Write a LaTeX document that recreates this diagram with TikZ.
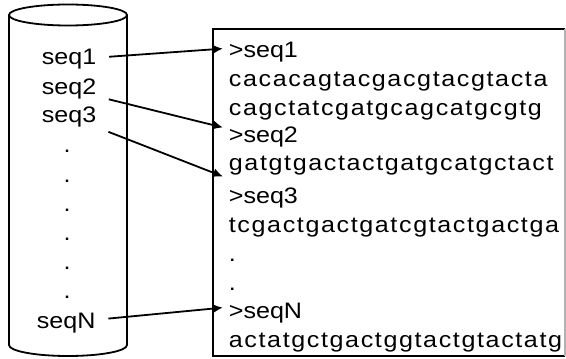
\documentclass[tikz,border=0pt]{standalone}
\usepackage{fontspec}
\setmainfont{Liberation Sans}[FakeStretch=1.12]
\newfontfamily\seqfont{Liberation Sans}[FakeStretch=1.12,LetterSpace=7.2]
\usetikzlibrary{arrows.meta}

\begin{document}
\begin{tikzpicture}[
  x=0.5pt,y=-0.5pt,
  line width=0.9pt,
  entry/.style={inner sep=0pt,anchor=base west,font=\fontsize{11.2}{13}\selectfont},
  head/.style={entry,inner xsep=2.5pt},
  dna/.style={head,font=\fontsize{11.2}{13}\selectfont\seqfont},
  link/.style={-{Latex[length=5pt,width=4.5pt]},shorten <=6pt}
]
\useasboundingbox (0,0) rectangle (566,358);
% database drum on the left
\draw (9,15) -- (9,345) arc[start angle=180,end angle=0,x radius=59,y radius=11] -- (127,15);
\draw (68,15) ellipse[x radius=59,y radius=10.5];
% file box on the right
\draw (565,29) -- (213,29) -- (213,356) -- (565,356);
\draw[gray!60] (565,29) -- (565,356);

% entries in the database
\node[entry] (s1) at (41,65) {seq1};
\node[entry] (s2) at (41,95) {seq2};
\node[entry] (s3) at (41,122) {seq3};
\node[entry] (sN) at (36,328) {seqN};
\foreach \y [count=\i] in {152,182,211,240,269,298}
  \node[entry,anchor=base] (d\i) at (67,\y) {.};

% fasta records
\node[head] (h1) at (223,58) {>seq1};
\node[dna] (l1) at (223,87) {cacacagtacgacgtacgtacta};
\node[dna] (l2) at (223,115) {cagctatcgatgcagcatgcgtg};
\node[head] (h2) at (223,142) {>seq2};
\node[dna] (l3) at (223,170) {gatgtgactactgatgcatgctact};
\node[head] (h3) at (223,203) {>seq3};
\node[dna] (l4) at (223,232) {tcgactgactgatcgtactgactga};
\node[head] (e1) at (223,261) {.};
\node[head] (e2) at (223,290) {.};
\node[head] (hN) at (223,318) {>seqN};
\node[dna] (l5) at (223,347) {actatgctgactggtactgtactatg};

\draw[link] (s1) -- ([yshift=2pt]h1.west);
\draw[link] (s2) -- ([yshift=4.5pt]h2.west);
\draw[link] (s3) -- ([yshift=10.5pt]h3.west);
\draw[link] (sN) -- ([yshift=2.5pt]hN.west);
\end{tikzpicture}
\end{document}
